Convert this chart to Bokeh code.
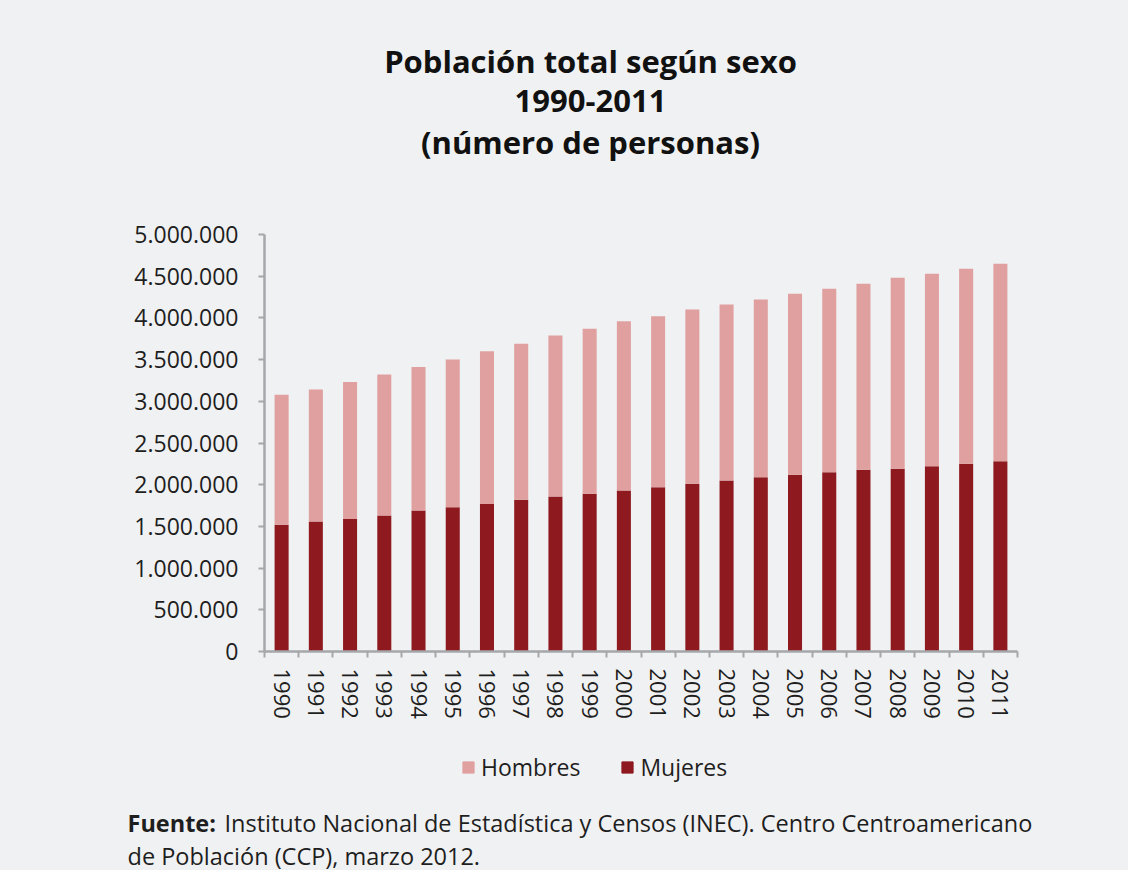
from bokeh.plotting import figure
from bokeh.models import ColumnDataSource, Range1d, FixedTicker, Legend, LegendItem
from bokeh.layouts import column
from bokeh.core.properties import value
from bokeh.embed import file_html
from bokeh.resources import INLINE

years = list(range(1990, 2012))
year_labels = [str(y) for y in years]
mujeres = [1520000, 1560000, 1590000, 1630000, 1690000, 1730000, 1770000, 1820000,
           1860000, 1890000, 1930000, 1970000, 2010000, 2050000, 2090000, 2120000,
           2150000, 2180000, 2190000, 2220000, 2250000, 2280000]
hombres = [1560000, 1580000, 1640000, 1690000, 1720000, 1770000, 1830000, 1870000,
           1930000, 1980000, 2030000, 2050000, 2090000, 2110000, 2130000, 2170000,
           2200000, 2230000, 2290000, 2310000, 2340000, 2370000]
y_tick_values = [0, 500000, 1000000, 1500000, 2000000, 2500000, 3000000, 3500000,
                 4000000, 4500000, 5000000]
y_tick_labels = ["0", "500.000", "1.000.000", "1.500.000", "2.000.000", "2.500.000",
                 "3.000.000", "3.500.000", "4.000.000", "4.500.000", "5.000.000"]
title_lines = ["Población total según sexo", "1990-2011", "(número de personas)"]
series_names = ["Hombres", "Mujeres"]
footer_bold = "Fuente:"
footer_line1 = "Instituto Nacional de Estadística y Censos (INEC). Centro Centroamericano"
footer_line2 = "de Población (CCP), marzo 2012."

PINK = "#e0a0a0"
DARK = "#8e1a1f"
BG = "#f0f1f2"
TXT = "#1e1e1e"
AX = "#a5a7aa"
FONT = "Open Sans"
W = 1128


def blank_fig(h):
    f = figure(width=W, height=h, output_backend="svg", toolbar_location=None,
               x_range=Range1d(0, W), y_range=Range1d(h, 0),
               x_axis_location=None, y_axis_location=None, min_border=0,
               frame_align=False)
    f.background_fill_color = BG
    f.border_fill_color = BG
    f.outline_line_color = None
    f.grid.visible = False
    return f


# ---- title block ----
top = blank_fig(200)
top.text(x=[590, 590, 590], y=[60, 100, 141], text=title_lines,
         text_align="center", text_baseline="middle",
         text_font=value(FONT), text_font_style="bold", text_font_size="31px",
         text_color="#111111")

# ---- main chart ----
source = ColumnDataSource(dict(year=years, Mujeres=mujeres, Hombres=hombres))

p = figure(width=W, height=535, output_backend="svg", toolbar_location=None,
           x_range=Range1d(1989.5, 2011.5), y_range=Range1d(0, 5000000),
           min_border_left=264, min_border_right=W - 1017, min_border_top=34,
           min_border_bottom=84, frame_align=False)
p.background_fill_color = BG
p.border_fill_color = BG
p.outline_line_color = None
p.grid.visible = False

p.vbar_stack(["Mujeres", "Hombres"], x="year", width=0.41, color=[DARK, PINK],
             line_color=None, source=source)

ya = p.yaxis[0]
ya.ticker = FixedTicker(ticks=y_tick_values)
ya.major_label_overrides = {v: l for v, l in zip(y_tick_values, y_tick_labels)}
ya.axis_line_color = AX
ya.axis_line_width = 2.5
ya.major_tick_line_color = AX
ya.major_tick_line_width = 2
ya.major_tick_out = 6
ya.major_tick_in = 0
ya.minor_tick_line_color = None
ya.major_label_text_font = FONT
ya.major_label_text_font_size = "23px"
ya.major_label_text_color = TXT
ya.major_label_standoff = 20

xa = p.xaxis[0]
xa.ticker = FixedTicker(ticks=years, minor_ticks=[y - 0.5 for y in years] + [years[-1] + 0.5])
xa.major_label_overrides = {y: l for y, l in zip(years, year_labels)}
xa.major_label_orientation = "vertical"
xa.axis_line_color = AX
xa.axis_line_width = 2.5
xa.major_tick_line_color = None
xa.minor_tick_line_color = AX
xa.minor_tick_line_width = 2
xa.minor_tick_out = 6
xa.minor_tick_in = 0
xa.major_label_text_font = FONT
xa.major_label_text_font_size = "22px"
xa.major_label_text_color = TXT
xa.major_label_standoff = 11

# ---- legend + footer ----
FOOT_H = 135
foot = blank_fig(FOOT_H)
nan = float("nan")
swatch = ColumnDataSource(dict(x=[nan], top=[nan]))
r_h = foot.vbar(x="x", top="top", width=1, color=PINK, source=swatch)
r_m = foot.vbar(x="x", top="top", width=1, color=DARK, source=swatch)
legend = Legend(items=[LegendItem(label=series_names[0], renderers=[r_h]),
                       LegendItem(label=series_names[1], renderers=[r_m])],
                orientation="horizontal", location=(461, FOOT_H - 48))
legend.background_fill_alpha = 0
legend.border_line_color = None
legend.padding = 0
legend.margin = 0
legend.spacing = 40
legend.glyph_width = 14
legend.glyph_height = 14
legend.label_standoff = 6
legend.label_text_font = FONT
legend.label_text_font_size = "23px"
legend.label_text_color = TXT
foot.add_layout(legend)

foot.text(x=[127], y=[87], text=[footer_bold], text_baseline="middle",
          text_font=value(FONT), text_font_style="bold", text_font_size="23.5px",
          text_color=TXT)
foot.text(x=[224, 127], y=[87, 120], text=[footer_line1, footer_line2],
          text_baseline="middle", text_font=value(FONT), text_font_size="23.5px",
          text_color=TXT)

layout = column(top, p, foot, spacing=0, styles={"background-color": BG})
open("out.html", "w").write(file_html(layout, INLINE))
